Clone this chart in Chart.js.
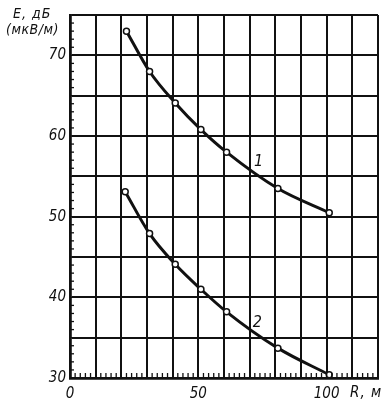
<!DOCTYPE html>
<html><head><meta charset="utf-8">
<script src="https://cdn.jsdelivr.net/npm/chart.js@4/dist/chart.umd.min.js"></script>
<style>html,body{margin:0;padding:0;background:#fff}canvas{display:block}</style>
</head><body>
<canvas id="c" width="390" height="403"></canvas>
<script>
const distances1 = [22, 31, 41, 51, 61, 81, 101];
const field1 = [73.0, 68.0, 64.1, 60.8, 58.0, 53.5, 50.5];
const distances2 = [21.5, 31, 41, 51, 61, 81, 101];
const field2 = [53.1, 47.9, 44.1, 41.0, 38.2, 33.7, 30.4];
const xTickLabels = [0, 50, 100];
const yTickLabels = [30, 40, 50, 60, 70];
const curveLabels = ['1', '2'];
const curveLabelPos = [[73.5, 56.8], [73, 36.8]];
const yTitle = ['Е, дБ', '(мкВ/м)'];
const xTitle = 'R, м';

const FONT = '"DejaVu Sans Condensed", "Liberation Sans", sans-serif';
const INK = '#111';

const extras = {
  id: 'extras',
  afterDraw(chart) {
    const ctx = chart.ctx, xs = chart.scales.x, ys = chart.scales.y;
    const a = chart.chartArea;
    ctx.save();
    ctx.strokeStyle = INK; ctx.lineWidth = 1.3;
    for (let v = 0; v <= 120; v += 2) {
      const px = xs.getPixelForValue(v);
      ctx.beginPath(); ctx.moveTo(px, a.bottom); ctx.lineTo(px, a.bottom - 5); ctx.stroke();
    }
    for (let v = 30; v <= 75; v += 1) {
      const py = ys.getPixelForValue(v);
      ctx.beginPath(); ctx.moveTo(a.left, py); ctx.lineTo(a.left + 4, py); ctx.stroke();
    }
    ctx.fillStyle = INK;
    ctx.font = 'italic 16px ' + FONT;
    ctx.textAlign = 'center'; ctx.textBaseline = 'middle';
    curveLabels.forEach((t, i) => {
      ctx.fillText(t, xs.getPixelForValue(curveLabelPos[i][0]), ys.getPixelForValue(curveLabelPos[i][1]));
    });
    ctx.textAlign = 'left';
    ctx.letterSpacing = '1px';
    ctx.font = 'italic 14px ' + FONT;
    ctx.fillText(yTitle[0], 13, 14);
    ctx.letterSpacing = '0.5px';
    ctx.fillText(yTitle[1], 6, 30);
    ctx.letterSpacing = '1px';
    ctx.font = 'italic 15px ' + FONT;
    ctx.fillText(xTitle, 350, 393);
    ctx.restore();
  }
};

new Chart(document.getElementById('c'), {
  type: 'line',
  data: {
    datasets: [
      { data: distances1.map((x, i) => ({x, y: field1[i]})) },
      { data: distances2.map((x, i) => ({x, y: field2[i]})) }
    ].map(d => Object.assign(d, {
      borderColor: INK, borderWidth: 3, cubicInterpolationMode: 'monotone',
      pointRadius: 3, pointBackgroundColor: '#fff', pointBorderColor: INK, pointBorderWidth: 1.5
    }))
  },
  options: {
    responsive: false, animation: false,
    layout: { padding: { top: 15, right: 12, left: 0, bottom: 0 } },
    plugins: { legend: { display: false }, tooltip: { enabled: false } },
    scales: {
      x: {
        type: 'linear', min: 0, max: 120,
        afterFit(s) { s.height = 25; },
        border: { color: INK, width: 2.8 },
        grid: { color: INK, lineWidth: 2, drawTicks: false },
        ticks: { stepSize: 10, padding: 7, color: INK, maxRotation: 0, autoSkip: false,
          font: { family: FONT, style: 'italic', size: 15 },
          callback: v => xTickLabels.includes(v) ? String(v) : '' }
      },
      y: {
        min: 30, max: 75,
        afterFit(s) { s.width = 70; },
        border: { color: INK, width: 2.8 },
        grid: { color: INK, lineWidth: 2, drawTicks: false },
        ticks: { stepSize: 5, padding: 4, color: INK, autoSkip: false,
          font: { family: FONT, style: 'italic', size: 15 },
          callback: v => yTickLabels.includes(v) ? String(v) : '' }
      }
    }
  },
  plugins: [extras]
});
</script>
</body></html>
